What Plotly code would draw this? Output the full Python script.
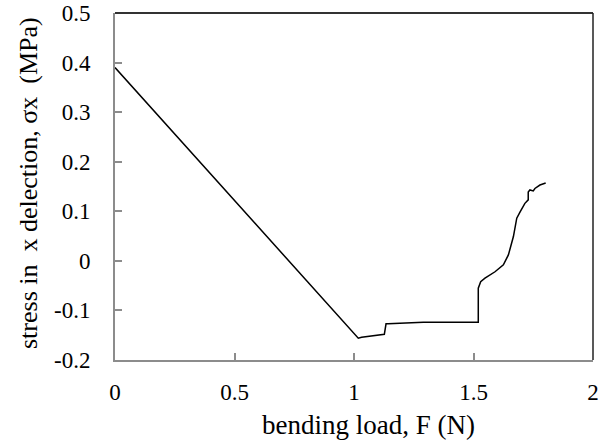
import plotly.graph_objects as go

load_N = [0.0, 1.018, 1.032, 1.127, 1.134, 1.143, 1.29, 1.52, 1.52, 1.530, 1.548, 1.590,
          1.625, 1.646, 1.667, 1.681, 1.695, 1.709, 1.715, 1.729, 1.729, 1.736, 1.750,
          1.757, 1.778, 1.802]
stress_MPa = [0.39, -0.156, -0.154, -0.148, -0.127, -0.127, -0.124, -0.124, -0.055, -0.042,
              -0.035, -0.022, -0.008, 0.012, 0.049, 0.086, 0.099, 0.112, 0.116, 0.123,
              0.139, 0.143, 0.141, 0.146, 0.153, 0.157]

x_ticks = [0, 0.5, 1, 1.5, 2]
y_ticks = [-0.2, -0.1, 0, 0.1, 0.2, 0.3, 0.4, 0.5]

x_title = "bending load, F (N)"
y_title = "stress in\u00a0 x delection, \u03c3x\u00a0 (MPa)"

font_family = "Liberation Serif, Times New Roman, serif"

fig = go.Figure()
fig.add_trace(go.Scatter(x=load_N, y=stress_MPa, mode="lines",
                         line=dict(color="black", width=1.5), showlegend=False,
                         hoverinfo="skip"))

axis_common = dict(showgrid=False, zeroline=False, showline=True, linecolor="#8c8c8c",
                   linewidth=2, ticks="inside", ticklen=7, tickcolor="#8c8c8c",
                   tickwidth=1.5, automargin=False, ticklabeloverflow="allow",
                   tickfont=dict(size=23))

fig.update_layout(
    width=613, height=445,
    margin=dict(l=115, r=20, t=13, b=85, autoexpand=False),
    paper_bgcolor="white", plot_bgcolor="white",
    font=dict(family=font_family, size=23, color="black"),
    xaxis=dict(range=[0, 2], tickvals=x_ticks, ticktext=[str(v) for v in x_ticks],
               ticklabelstandoff=10, **axis_common),
    yaxis=dict(range=[-0.2, 0.5], tickvals=y_ticks,
               ticktext=[("0" if v == 0 else f"{v:.1f}") for v in y_ticks],
               ticklabelstandoff=18, **axis_common),
    annotations=[
        dict(text=x_title, xref="paper", yref="paper", x=0.531, y=0,
             xanchor="center", yanchor="middle", yshift=-65, showarrow=False,
             font=dict(size=27)),
        dict(text=y_title, xref="paper", yref="paper", x=0, y=0.51,
             xanchor="center", yanchor="middle", xshift=-87, textangle=-90,
             showarrow=False, font=dict(size=26)),
    ],
)
# frame top and right edges
fig.add_shape(type="line", xref="paper", yref="paper", x0=0, x1=1, y0=1, y1=1,
              line=dict(color="#333333", width=2))
fig.add_shape(type="line", xref="paper", yref="paper", x0=1, x1=1, y0=0, y1=1,
              line=dict(color="#222222", width=1.5))

fig.write_html("out.html", config={"displayModeBar": False},
               post_script="document.body.style.margin='0';")
